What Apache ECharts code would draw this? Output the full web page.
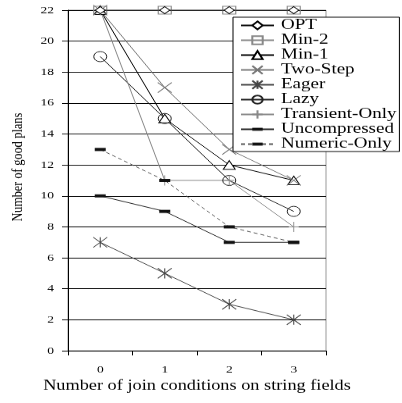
<!DOCTYPE html>
<html>
<head>
<meta charset="utf-8">
<script src="https://cdn.jsdelivr.net/npm/echarts@6/dist/echarts.min.js"></script>
<style>
  html, body { margin: 0; padding: 0; background: #fff; overflow: hidden; }
  #wrap { width: 402px; height: 403px; overflow: hidden; }
  /* The figure is laid out on a taller canvas and squeezed vertically,
     giving the wide, flattened look of the original print. */
  #chart { width: 402px; height: 516px; transform: scaleY(0.78101); transform-origin: 0 0; }
</style>
</head>
<body>
<div id="wrap"><div id="chart"></div></div>
<script>
// x categories: number of join conditions on string fields
const categories = ['0', '1', '2', '3'];

// number of good plans per strategy
const optValues = [22, 22, 22, 22];
const min2Values = [22, 22, 22, 22];
const min1Values = [22, 15, 12, 11];
const twoStepValues = [22, 17, 13, 11];
const eagerValues = [7, 5, 3, 2];
const lazyValues = [19, 15, 11, 9];
const transientOnlyValues = [22, 11, 11, 8];
const uncompressedValues = [10, 9, 7, 7];
const numericOnlyValues = [13, 11, 8, 7];

// y axis ticks
const yMin = 0, yMax = 22, yStep = 2;

const FONT = 'Liberation Serif';

const crossPath = 'path://M0,0L10,10M10,0L0,10';
const asteriskPath = 'path://M0,0L10,10M10,0L0,10M5,0L5,10';
const plusPath = 'path://M5,0L5,10M0,5L10,5';
// a flat bar centred in a square frame (the frame is only move-to points)
const dashPath = 'path://M0,0M11,11M0,3.5L11,3.5L11,7.5L0,7.5Z';

function hollow(name, data, symbol, size, color, extra) {
  return Object.assign({
    name, type: 'line', data, symbol, symbolSize: size,
    lineStyle: { color, width: 1 },
    itemStyle: { color: '#fff', borderColor: color, borderWidth: 1 },
    emphasis: { disabled: true },
    animation: false
  }, extra || {});
}

function stroked(name, data, symbol, size, color, extra) {
  return Object.assign({
    name, type: 'line', data, symbol, symbolSize: size,
    lineStyle: { color, width: 1 },
    itemStyle: { color: color, borderColor: color, borderWidth: 1 },
    emphasis: { disabled: true },
    animation: false
  }, extra || {});
}

const series = [
  hollow('OPT', optValues, 'diamond', [10, 9], '#000', { z: 4 }),
  hollow('Min-2', min2Values, 'rect', [13, 10], '#888', {
    itemStyle: { color: 'rgba(255,255,255,0)', borderColor: '#888', borderWidth: 1 }, z: 3
  }),
  hollow('Min-1', min1Values, 'triangle', [12, 11], '#000'),
  stroked('Two-Step', twoStepValues, crossPath, [14, 13], '#777'),
  stroked('Eager', eagerValues, asteriskPath, [14, 13], '#444'),
  hollow('Lazy', lazyValues, 'circle', [13, 13], '#222', {
    itemStyle: { color: 'rgba(255,255,255,0)', borderColor: '#222', borderWidth: 1 }
  }),
  stroked('Transient-Only', transientOnlyValues, plusPath, [10, 13], '#888'),
  stroked('Uncompressed', uncompressedValues, dashPath, 11, '#222', {
    itemStyle: { color: '#111', borderWidth: 0 }
  }),
  stroked('Numeric-Only', numericOnlyValues, dashPath, 11, '#555', {
    lineStyle: { color: '#555', width: 1, type: [4, 3] },
    itemStyle: { color: '#111', borderWidth: 0 }
  })
];

const chart = echarts.init(document.getElementById('chart'), null, { renderer: 'canvas' });
chart.setOption({
  backgroundColor: '#fff',
  animation: false,
  textStyle: { fontFamily: FONT },
  grid: {
    left: 68, right: 76, top: 13, bottom: 67,
    show: true, borderColor: '#999', borderWidth: 1, backgroundColor: 'transparent'
  },
  legend: {
    orient: 'vertical',
    left: 233, top: 22,
    itemWidth: 33, itemHeight: 13, itemGap: 0,
    padding: [1, 3, 0, 7],
    backgroundColor: '#fff',
    borderColor: '#000', borderWidth: 1, borderRadius: 0,
    selectedMode: false,
    textStyle: { fontFamily: FONT, fontSize: 19, color: '#000', lineHeight: 18.3, padding: [0, 0, 0, 2] },
    data: series.map(s => s.name)
  },
  xAxis: {
    type: 'category',
    data: categories,
    boundaryGap: true,
    name: 'Number of join conditions on string fields',
    nameLocation: 'middle',
    nameGap: 32,
    nameTextStyle: { fontFamily: FONT, fontSize: 18.3, color: '#000' },
    axisLine: { show: true, lineStyle: { color: '#000', width: 1 } },
    axisTick: { show: true, alignWithLabel: false, length: 6, lineStyle: { color: '#000' } },
    axisLabel: { fontFamily: FONT, fontSize: 13.5, color: '#000', margin: 17 },
    splitLine: { show: false }
  },
  yAxis: {
    type: 'value',
    min: yMin, max: yMax, interval: yStep,
    name: 'Number of good plans',
    nameLocation: 'middle',
    nameGap: 42,
    nameTextStyle: { fontFamily: FONT, fontSize: 15.5, color: '#000', padding: [0, 0, 0, 34] },
    axisLine: { show: true, lineStyle: { color: '#000', width: 1 } },
    axisTick: { show: true, length: 6, lineStyle: { color: '#000' } },
    axisLabel: { fontFamily: FONT, fontSize: 13.5, color: '#000', margin: 14 },
    splitLine: { show: true, lineStyle: { color: '#000', width: 1 } }
  },
  series
});
</script>
</body>
</html>
